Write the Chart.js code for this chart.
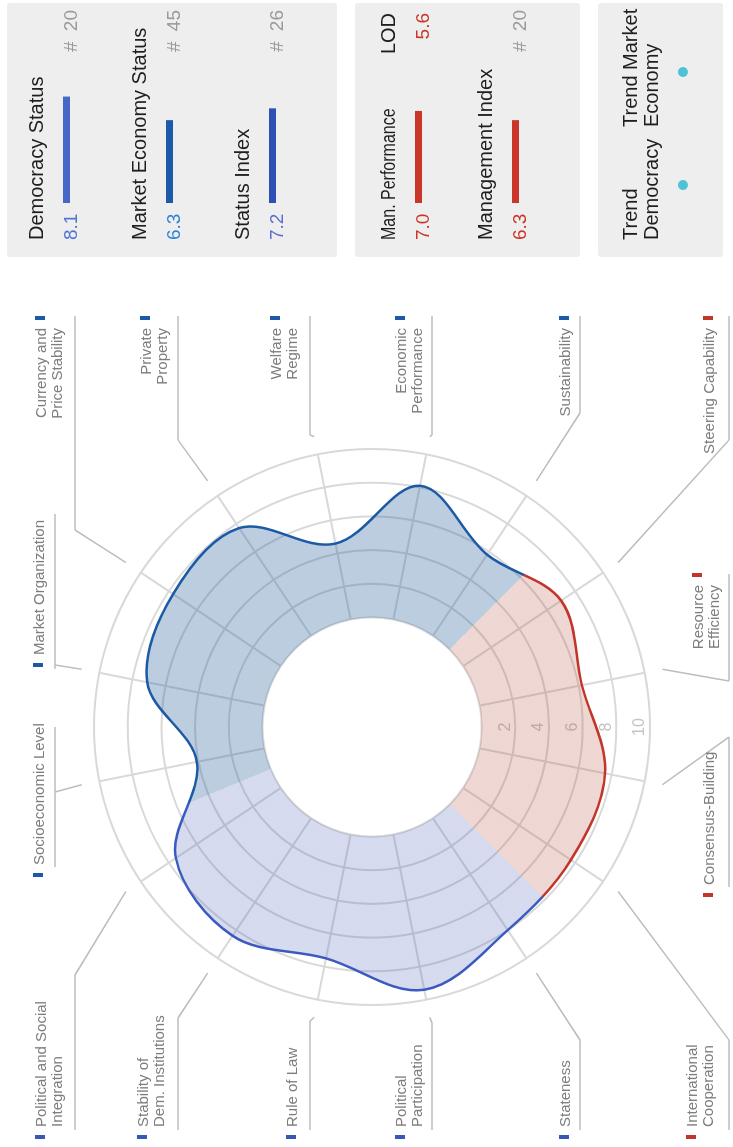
<!DOCTYPE html>
<html>
<head>
<meta charset="utf-8">
<script src="https://cdn.jsdelivr.net/npm/chart.js@4.4.1/dist/chart.umd.min.js"></script>
<style>
  html, body { margin: 0; padding: 0; background: #fff; overflow: hidden; }
  body { width: 733px; height: 1147px; position: relative; font-family: "Liberation Sans", Arial, sans-serif; }
  #sheet { position: absolute; left: 0; top: 0; width: 1147px; height: 733px; transform-origin: 0 0; transform: translate(0px, 1147px) rotate(-90deg); }
  #radar { position: absolute; left: 0; top: 0; }
  .crit { position: absolute; font-size: 15px; line-height: 16px; color: #7d7d7d; white-space: nowrap; }
  .mark { position: absolute; width: 4px; height: 10px; }
  .panel { position: absolute; left: 890px; width: 254px; background: #eeeeee; border-radius: 3px; }
  .ttl { position: absolute; font-size: 20px; line-height: 21px; color: #1e1e1e; white-space: nowrap; }
  .narrow { transform: scaleX(0.8); transform-origin: 0 50%; }
  .val { position: absolute; font-size: 19px; line-height: 19px; white-space: nowrap; }
  .rank { color: #9a9a9a; word-spacing: 5px; }
  .mini { position: absolute; }
  .dot { position: absolute; width: 10px; height: 10px; border-radius: 50%; background: #4ec3d6; }
</style>
</head>
<body>
<div id="sheet">
  <canvas id="radar" width="1147" height="733"></canvas>
</div>
<script>
// criteria, clockwise starting at Stateness
const criteria = ['Stateness', 'Political Participation', 'Rule of Law', 'Stability of Dem. Institutions',
  'Political and Social Integration', 'Socioeconomic Level', 'Market Organization', 'Currency and Price Stability',
  'Private Property', 'Welfare Regime', 'Economic Performance', 'Sustainability',
  'Steering Capability', 'Resource Efficiency', 'Consensus-Building', 'International Cooperation'];
const scores = [8.0, 9.4, 7.5, 8.4, 7.5, 4.1, 7.1, 7.7, 7.7, 4.6, 8.1, 5.8, 7.0, 6.2, 7.6, 7.7];
const criteriaGroup = ['dem', 'dem', 'dem', 'dem', 'dem', 'eco', 'eco', 'eco', 'eco', 'eco', 'eco', 'eco', 'man', 'man', 'man', 'man'];
const tickValues = [0, 2, 4, 6, 8, 10];

const statusNames = ['Democracy Status', 'Market Economy Status', 'Status Index'];
const statusScores = [8.1, 6.3, 7.2];
const statusRanks = [20, 45, 26];
const managementNames = ['Man. Performance', 'Management Index'];
const managementScores = [7.0, 6.3];
const levelOfDifficulty = 5.6;
const managementRank = 20;

// styles
const lineColors = {dem: '#3b5ac0', eco: '#1c5aa6', man: '#c2352a'};
const fillColors = {dem: 'rgba(66, 90, 180, 0.22)', eco: 'rgba(30, 90, 150, 0.30)', man: 'rgba(180, 75, 55, 0.22)'};
const markColors = {dem: '#3656b8', eco: '#1c5aa6', man: '#c2352a'};
const statusValueColors = ['#5075d4', '#2f83d6', '#5d70d2'];
const statusBarColors = ['#4767c6', '#1b5aa9', '#2d50b5'];
const red = '#c9372a';

// label text lines and where they sit on the sheet
const labelLines = [['Stateness'], ['Political', 'Participation'], ['Rule of Law'], ['Stability of', 'Dem. Institutions'],
  ['Political and Social', 'Integration'], ['Socioeconomic Level'], ['Market Organization'], ['Currency and', 'Price Stability'],
  ['Private', 'Property'], ['Welfare', 'Regime'], ['Economic', 'Performance'], ['Sustainability'],
  ['Steering Capability'], ['Resource', 'Efficiency'], ['Consensus-Building'], ['International', 'Cooperation']];
const labelBoxes = [
  {x: 20, cap: 559, align: 'left', uy: 580, u0: 17, u1: 107, kx: 107},
  {x: 20, cap: 395, align: 'left', uy: 432, u0: 17, u1: 124, kx: 124},
  {x: 20, cap: 286, align: 'left', uy: 310, u0: 17, u1: 126, kx: 126},
  {x: 20, cap: 137, align: 'left', uy: 178, u0: 17, u1: 129, kx: 129},
  {x: 20, cap: 35, align: 'left', uy: 75, u0: 17, u1: 172, kx: 172},
  {x: 282, cap: 33, align: 'left', uy: 55, u0: 280, u1: 420, kx: 355},
  {x: 492, cap: 33, align: 'left', uy: 55, u0: 478, u1: 633, kx: 482},
  {x: 819, cap: 35, align: 'right', uy: 75, u0: 831, u1: 617, kx: 617},
  {x: 819, cap: 140, align: 'right', uy: 178, u0: 831, u1: 707, kx: 707},
  {x: 819, cap: 270, align: 'right', uy: 310, u0: 831, u1: 712, kx: 712},
  {x: 819, cap: 395, align: 'right', uy: 432, u0: 831, u1: 712, kx: 712},
  {x: 819, cap: 559, align: 'right', uy: 580, u0: 831, u1: 734, kx: 734},
  {x: 819, cap: 703, align: 'right', uy: 729, u0: 831, u1: 707, kx: 707},
  {x: 562, cap: 692, align: 'right', uy: 729, u0: 573, u1: 466, kx: 466},
  {x: 262, cap: 703, align: 'left', uy: 729, u0: 260, u1: 410, kx: 410},
  {x: 20, cap: 686, align: 'left', uy: 729, u0: 17, u1: 107, kx: 107}
];

const sheet = document.getElementById('sheet');

function place(el, x, y) {
  el.style.left = x + 'px';
  el.style.top = y + 'px';
  sheet.append(el);
  return el;
}

function addText(cls, lines, x, capTop, align, color) {
  let div = document.createElement('div');
  div.className = cls;
  div.innerHTML = lines.join('<br>');
  if (color) div.style.color = color;
  if (align === 'right') {
    div.style.width = '300px';
    div.style.textAlign = 'right';
    x -= 300;
  }
  return place(div, x, capTop - 2.5);
}

function addBox(cls, x, y, w, h, color) {
  let div = document.createElement('div');
  div.className = cls;
  div.style.width = w + 'px';
  div.style.height = h + 'px';
  if (color) div.style.background = color;
  return place(div, x, y);
}

function createMiniBar(x, y, value, color) {
  let c = document.createElement('canvas');
  c.width = 131;
  c.height = 7;
  c.className = 'mini';
  place(c, x, y);
  new Chart(c, {
    type: 'bar',
    data: {labels: [''], datasets: [{data: [value], backgroundColor: color, barPercentage: 1, categoryPercentage: 1}]},
    options: {
      indexAxis: 'y', responsive: false, animation: false,
      layout: {padding: 0},
      plugins: {legend: {display: false}, tooltip: {enabled: false}},
      scales: {x: {display: false, min: 0, max: 10}, y: {display: false}}
    }
  });
}

// colour each criterion's wedge by its group
function sectorPaint(context, colors) {
  const chart = context.chart;
  const r = chart.scales.r;
  const ctx = chart.ctx;
  if (!r || !ctx.createConicGradient || !isFinite(r.xCenter) || !isFinite(r.yCenter)) return colors.eco;
  const n = criteria.length;
  const start = r.getIndexAngle(0) - Math.PI / n - Math.PI / 2;
  if (!isFinite(start)) return colors.eco;
  const g = ctx.createConicGradient(start, r.xCenter, r.yCenter);
  criteriaGroup.forEach((grp, i) => {
    g.addColorStop(i / n, colors[grp]);
    g.addColorStop((i + 1) / n, colors[grp]);
  });
  return g;
}

const ringDecor = {
  id: 'ringDecor',
  beforeDatasetsDraw(chart) {
    const r = chart.scales.r, ctx = chart.ctx;
    const r0 = r.getDistanceFromCenterForValue(0);
    ctx.save();
    ctx.beginPath();
    ctx.arc(r.xCenter, r.yCenter, r0, 0, Math.PI * 2);
    ctx.fillStyle = '#ffffff';
    ctx.fill();
    ctx.lineWidth = 2;
    ctx.strokeStyle = '#dcdcdc';
    ctx.stroke();
    ctx.fillStyle = '#c4c4c4';
    ctx.font = '16px "Liberation Sans", Arial';
    ctx.textAlign = 'center';
    ctx.textBaseline = 'middle';
    tickValues.filter(v => v > 0).forEach(v => {
      ctx.fillText(String(v), r.xCenter, r.yCenter + r.getDistanceFromCenterForValue(v) - 10);
    });
    ctx.restore();
  },
  afterDraw(chart) {
    const r = chart.scales.r, ctx = chart.ctx;
    ctx.save();
    ctx.strokeStyle = '#bdbdbd';
    ctx.lineWidth = 1.5;
    labelBoxes.forEach((b, i) => {
      const p = r.getPointPosition(i, r.drawingArea + 18);
      ctx.beginPath();
      ctx.moveTo(b.u0, b.uy);
      ctx.lineTo(b.u1, b.uy);
      ctx.moveTo(b.kx, b.uy);
      ctx.lineTo(p.x, p.y);
      ctx.stroke();
    });
    ctx.restore();
  }
};

const radar = new Chart(document.getElementById('radar'), {
  type: 'radar',
  data: {
    labels: criteria,
    datasets: [{
      data: scores,
      fill: 'origin',
      backgroundColor: ctx => sectorPaint(ctx, fillColors),
      borderColor: ctx => sectorPaint(ctx, lineColors),
      borderWidth: 2.5,
      borderJoinStyle: 'round',
      pointRadius: 0,
      tension: 0.35
    }]
  },
  options: {
    responsive: false,
    animation: false,
    layout: {padding: {left: 142, top: 94, right: 449, bottom: 83}},
    plugins: {legend: {display: false}, tooltip: {enabled: false}},
    scales: {
      r: {
        min: -6.5,
        max: 10,
        startAngle: 236.25,
        afterBuildTicks: s => { s.ticks = tickValues.map(v => ({value: v})); },
        grid: {circular: true, color: '#d9d9d9', lineWidth: 2},
        angleLines: {color: '#d9d9d9', lineWidth: 2},
        ticks: {display: false},
        pointLabels: {display: false}
      }
    }
  },
  plugins: [ringDecor]
});
radar.update();

// criterion labels with group markers
labelLines.forEach((lines, i) => {
  const b = labelBoxes[i];
  addText('crit', lines, b.x, b.cap, b.align);
  addBox('mark', b.align === 'left' ? b.x - 12 : b.x + 8, b.cap, 4, 10, markColors[criteriaGroup[i]]);
});

// summary panels
addBox('panel', 890, 7, 254, 330);
addBox('panel', 890, 355, 254, 225);
addBox('panel', 890, 598, 254, 125);

const statusCaps = [28, 131, 234];
statusNames.forEach((name, i) => {
  const cap = statusCaps[i];
  addText('ttl', [name], 907, cap, 'left');
  addText('val', [statusScores[i].toFixed(1)], 907, cap + 35, 'left', statusValueColors[i]);
  createMiniBar(944, cap + 35, statusScores[i], statusBarColors[i]);
  addText('val rank', ['# ' + statusRanks[i]], 1137, cap + 35, 'right');
});

const managementCaps = [380, 477];
managementNames.forEach((name, i) => {
  const cap = managementCaps[i];
  addText(i === 0 ? 'ttl narrow' : 'ttl', [name], 907, cap, 'left');
  addText('val', [managementScores[i].toFixed(1)], 907, cap + 35, 'left', red);
  createMiniBar(944, cap + 35, managementScores[i], red);
});
addText('ttl', ['LOD'], 1134, managementCaps[0], 'right');
addText('val', [levelOfDifficulty.toFixed(1)], 1134, managementCaps[0] + 35, 'right', red);
addText('val rank', ['# ' + managementRank], 1137, managementCaps[1] + 35, 'right');

addText('ttl', ['Trend', 'Democracy'], 907, 622, 'left');
addText('ttl', ['Trend Market', 'Economy'], 1020, 622, 'left');
addBox('dot', 957, 678, 10, 10);
addBox('dot', 1070, 678, 10, 10);
</script>
</body>
</html>
